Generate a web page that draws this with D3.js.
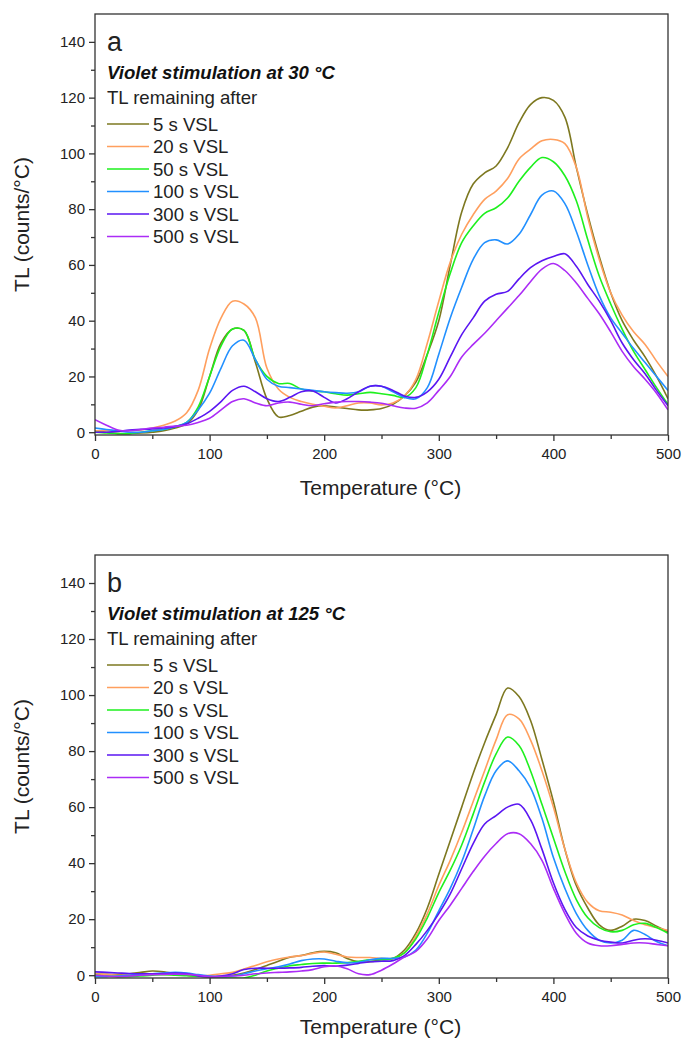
<!DOCTYPE html>
<html>
<head>
<meta charset="utf-8">
<script src="https://cdn.jsdelivr.net/npm/d3@7"></script>
<style>
  html, body { margin: 0; padding: 0; background: #fff; }
  svg { display: block; font-family: "Liberation Sans", Arial, sans-serif; }
</style>
</head>
<body>
<svg id="chart" width="683" height="1039"></svg>
<script>
// Temperature grid shared by every glow curve (°C)
const temps = d3.range(0, 501, 10);

const seriesLabels = ["5 s VSL", "20 s VSL", "50 s VSL", "100 s VSL", "300 s VSL", "500 s VSL"];
const seriesColors = ["#7d7820", "#ff9f5e", "#1ef01e", "#2290ff", "#5a16f2", "#ab2cf6"];

const xTicks = [0, 100, 200, 300, 400, 500];
const yTicks = [0, 20, 40, 60, 80, 100, 120, 140];

// Panel a: violet stimulation at 30 °C
const a5 = [0.5, 0, -0.5, -0.5, -0.3, 0, 0.5, 1.5, 3, 8, 20, 32, 37, 36.5, 25, 12, 5.5, 6, 7.5, 9, 9.5, 9, 8.5, 8, 8, 8.5, 10, 13, 18, 28, 40, 60, 79, 89, 93, 95.5, 102, 111, 117.5, 120, 119, 113, 95, 78, 63, 50, 40, 33, 27, 20, 12];
const a20 = [0.5, 0.5, 0.5, 0.5, 0.8, 1.5, 2.5, 4, 7, 15, 30, 41, 47, 46, 41, 23, 15.5, 12.5, 11, 10, 9.3, 8.7, 9.5, 10.5, 10.5, 9.8, 10.5, 13, 19, 32, 47, 61, 71, 78, 83.5, 86.5, 91, 98, 101.5, 104.5, 105, 103.5, 95, 77, 62, 50, 42, 36, 31.5, 25.5, 20];
const a50 = [0, -0.3, -0.5, -0.5, 0, 0.5, 1, 2, 3.5, 9, 20, 31, 37, 36.5, 26, 20, 17.5, 17.5, 15.5, 14.8, 14.5, 13.8, 13.3, 13.8, 14.3, 13.8, 13.2, 12.5, 16, 28, 43, 57, 68, 74, 78.5, 80.5, 84, 90, 95, 98.5, 97, 92, 83, 69, 56, 46, 37, 29, 22.5, 16, 10];
const a100 = [1.5, 1, 0.5, 0, 0, 0.5, 1, 2, 3.5, 8, 14, 23, 31, 33, 26, 19, 16.5, 16, 15.5, 15, 14.5, 14.2, 14, 14.5, 16.5, 16.5, 14.5, 12.5, 12, 16, 28, 41, 52, 62, 68, 69, 67.5, 71, 78, 85, 86.5, 82, 72, 60, 49, 41, 35.5, 30, 25, 20, 15];
const a300 = [0, 0, 0.3, 0.8, 1, 1.2, 1.5, 2, 3, 5, 7.5, 11, 15, 16.5, 14.5, 12, 11, 12.5, 14.5, 14.8, 12.5, 10.5, 12, 14.5, 16.5, 16.5, 15, 13, 12.5, 14.5, 19, 27, 35, 41, 47, 49.5, 50.5, 55, 59, 61.5, 63, 64, 59.5, 53, 47, 40, 32, 26, 21, 15, 9.5];
const a500 = [4.5, 2.5, 0.8, 0.5, 1, 1.5, 1.8, 2.2, 2.5, 3.5, 5, 8, 11, 12, 10.5, 9.5, 10.5, 10.8, 10, 9.5, 10.2, 10.8, 11, 11, 10.8, 10.4, 9.5, 8.7, 8.6, 10.5, 15, 20, 27, 31.5, 35.5, 40, 44.5, 49, 54, 58.5, 60.5, 58, 53.5, 48, 42.5, 36, 29, 23.5, 19, 14, 8];

// Panel b: violet stimulation at 125 °C
const b5 = [0.5, 0.3, 0.3, 0.5, 1, 1.5, 1.2, 0.5, 0, -0.3, -0.5, -0.4, 0, 0.8, 2, 3.5, 5, 6.4, 7, 8, 8.5, 8, 6, 4.8, 4.8, 5.5, 6, 9, 15, 24, 36, 48, 60, 72, 83, 93, 102.5, 99.5, 91, 77, 62, 45, 32, 24, 18, 16, 17.5, 20, 19.5, 17.5, 15.5];
const b20 = [0.5, 0.3, 0, 0, 0.2, 0.3, 0.3, 0.2, 0, -0.2, 0, 0.5, 1, 2.2, 3.5, 4.8, 5.8, 6.5, 7, 7.8, 8.3, 7.5, 6.5, 6.3, 6.3, 6, 6, 8, 14, 22, 32, 41, 51, 62, 73, 84, 93, 91.5, 84, 73, 60, 45, 33, 26, 23, 22.5, 21.5, 19.5, 18, 17, 16];
const b50 = [0, -0.3, -0.5, -0.5, -0.3, 0, 0.2, 0, -0.2, -0.4, -0.5, -0.8, -1, -1, 0, 1.5, 2.5, 3.4, 3.8, 4.2, 4.3, 4.3, 4.5, 5, 5.5, 5.5, 6, 8, 13, 20.5, 29.5, 37.5, 46.5, 57.5, 69, 79, 85, 82, 73, 61, 49, 37, 27, 20.5, 17, 15.5, 16, 18, 18.5, 17, 15];
const b100 = [-0.5, -0.5, -0.3, 0, 0.3, 0.5, 0.8, 1, 0.8, 0.2, -0.3, -0.5, -0.3, 0.5, 1.5, 2.3, 3, 4, 5.2, 5.8, 5.8, 5, 4.4, 4.6, 5.5, 6, 6, 6.5, 9, 15, 23, 31, 40.5, 52, 64, 73, 76.5, 73, 67, 56, 42, 31, 22, 16, 12.5, 11.5, 12.5, 16, 14.5, 12, 10.5];
const b300 = [1.2, 1, 0.8, 0.6, 0.5, 0.5, 0.6, 0.8, 0.6, -0.3, -0.6, -0.3, 0.5, 2, 2.5, 2.5, 2.5, 2.6, 2.8, 3.2, 3.4, 3.2, 3.6, 4.2, 4.8, 5, 5.2, 7, 11, 16, 22, 29, 38, 47, 54, 57, 60, 61, 55.5, 45, 33, 23.5, 17, 14, 12.5, 11.8, 11.5, 12.5, 13, 12.5, 11.5];
const b500 = [0, -0.3, -0.5, -0.3, 0, 0.2, 0.3, 0.4, 0.3, 0, -0.5, -0.5, -0.3, 0, 0.5, 0.8, 1, 1.2, 1.5, 2, 3, 3.3, 2.3, 0.5, 0.2, 1.8, 4, 6.5, 8.5, 13, 19.5, 25, 31, 37, 42.5, 47, 50.5, 50.5, 47, 41, 31, 22, 15, 11.5, 10.5, 10.5, 11, 11.5, 11.5, 11, 10.5];

const panels = [
  { id: "a", label: "a", title: "Violet stimulation at 30 °C", top: 14, bottom: 435, xTitleGap: 60, series: [a5, a20, a50, a100, a300, a500] },
  { id: "b", label: "b", title: "Violet stimulation at 125 °C", top: 555, bottom: 978, xTitleGap: 56, series: [b5, b20, b50, b100, b300, b500] }
];

const svg = d3.select("#chart");
const left = 95, right = 668;
const x = d3.scaleLinear().domain([0, 500]).range([left, right]);

panels.forEach(p => {
  const y = d3.scaleLinear().domain([-1, 150]).range([p.bottom, p.top]);
  const g = svg.append("g");

  g.append("clipPath").attr("id", "clip-" + p.id)
    .append("rect").attr("x", left).attr("y", p.top)
    .attr("width", right - left).attr("height", p.bottom - p.top);

  // glow curves
  const line = d3.line()
    .x((d, i) => x(temps[i]))
    .y(d => y(d))
    .curve(d3.curveCatmullRom.alpha(0.5));

  const curves = g.append("g").attr("clip-path", `url(#clip-${p.id})`);
  p.series.forEach((vals, k) => {
    curves.append("path")
      .datum(vals)
      .attr("d", line)
      .attr("fill", "none")
      .attr("stroke", seriesColors[k])
      .attr("stroke-width", 1.6)
      .attr("stroke-linejoin", "round");
  });

  // frame
  g.append("rect")
    .attr("x", left).attr("y", p.top)
    .attr("width", right - left).attr("height", p.bottom - p.top)
    .attr("fill", "none").attr("stroke", "#333").attr("stroke-width", 1.3);

  // x axis: labelled every 100, minor ticks every 50
  const xMinor = g.append("g").attr("transform", `translate(0,${p.bottom})`)
    .call(d3.axisBottom(x).tickValues(d3.range(50, 500, 100)).tickSize(4).tickFormat(""));
  const xAxis = g.append("g").attr("transform", `translate(0,${p.bottom})`)
    .call(d3.axisBottom(x).tickValues(xTicks).tickSize(6).tickPadding(7));

  // y axis: labelled every 20, minor ticks every 10
  const yMinor = g.append("g").attr("transform", `translate(${left},0)`)
    .call(d3.axisLeft(y).tickValues(d3.range(10, 150, 20)).tickSize(4).tickFormat(""));
  const yAxis = g.append("g").attr("transform", `translate(${left},0)`)
    .call(d3.axisLeft(y).tickValues(yTicks).tickSize(6).tickPadding(4));

  [xMinor, xAxis, yMinor, yAxis].forEach(ax => {
    ax.select(".domain").remove();
    ax.selectAll("line").attr("stroke", "#333").attr("stroke-width", 1.3);
    ax.selectAll("text").attr("fill", "#222").style("font-size", "15px")
      .style("font-family", "'Liberation Sans', Arial, sans-serif");
  });

  // axis titles
  g.append("text")
    .attr("x", (left + right) / 2 - 1).attr("y", p.bottom + p.xTitleGap)
    .attr("text-anchor", "middle").attr("fill", "#222")
    .style("font-size", "21px")
    .text("Temperature (°C)");

  g.append("text")
    .attr("transform", `translate(29,${(p.top + p.bottom) / 2}) rotate(-90)`)
    .attr("text-anchor", "middle").attr("fill", "#222")
    .style("font-size", "21px")
    .text("TL (counts/°C)");

  // panel letter and legend
  g.append("text")
    .attr("x", 107).attr("y", p.top + 37)
    .attr("fill", "#222").style("font-size", "27px")
    .text(p.label);

  g.append("text")
    .attr("x", 107).attr("y", p.top + 65)
    .attr("fill", "#111").style("font-size", "18.6px")
    .style("font-weight", "bold").style("font-style", "italic")
    .text(p.title);

  g.append("text")
    .attr("x", 107).attr("y", p.top + 90)
    .attr("fill", "#222").style("font-size", "18.6px")
    .text("TL remaining after");

  const legend = g.append("g");
  seriesLabels.forEach((lab, k) => {
    const cy = p.top + 110 + k * 22.5;
    legend.append("line")
      .attr("x1", 107).attr("x2", 149)
      .attr("y1", cy).attr("y2", cy)
      .attr("stroke", seriesColors[k]).attr("stroke-width", 1.6);
    legend.append("text")
      .attr("x", 153).attr("y", cy + 6.5)
      .attr("fill", "#222").style("font-size", "18.6px")
      .text(lab);
  });
});
</script>
</body>
</html>
